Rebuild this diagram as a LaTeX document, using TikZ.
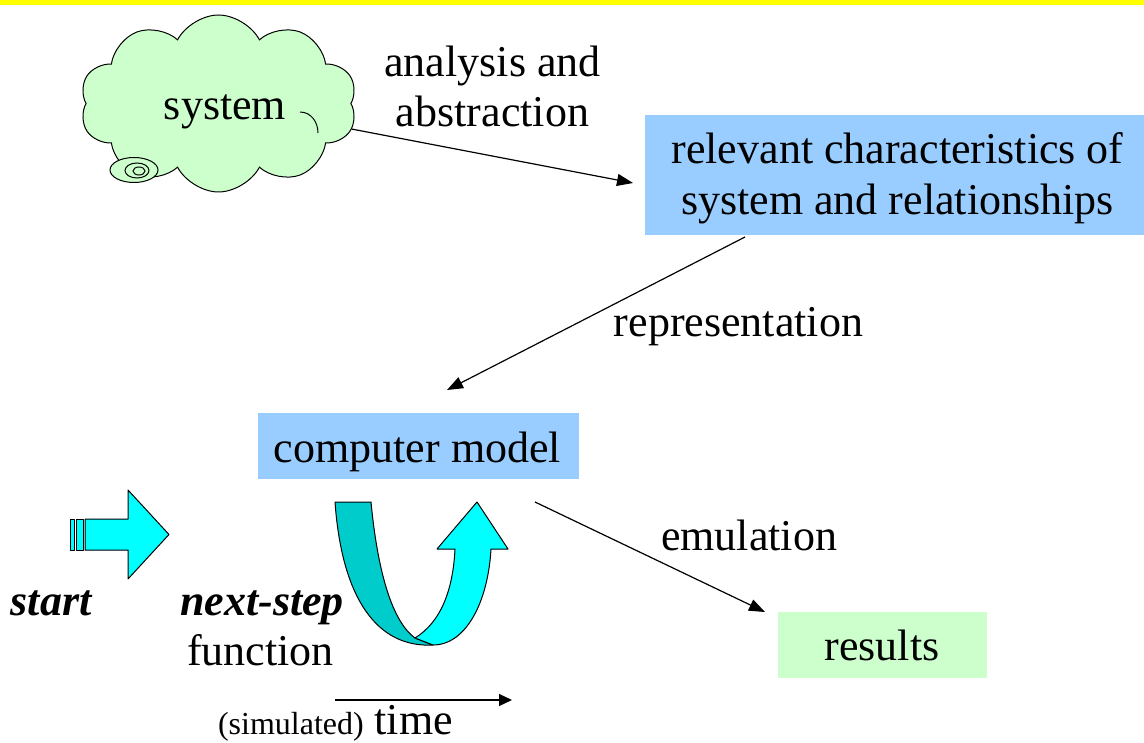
\documentclass[tikz,border=0pt]{standalone}
\usepackage{fontspec}
\setmainfont{Liberation Serif}
\usetikzlibrary{arrows.meta,shapes.symbols}
\definecolor{cloudgreen}{HTML}{CCFFCC}
\definecolor{boxblue}{HTML}{99CCFF}
\definecolor{aqua}{HTML}{00FFFF}
\definecolor{darkaqua}{HTML}{00CCCC}
\definecolor{baryellow}{HTML}{FFFF00}
\begin{document}
\begin{tikzpicture}[x=1pt,y=-1pt,
  txt/.style={font=\fontsize{44}{50.6}\selectfont, inner sep=0pt, anchor=base},
  bitxt/.style={txt, font=\fontsize{44}{50.6}\selectfont\bfseries\itshape},
  panel/.style={fill=#1, draw=none, inner sep=0pt, rectangle},
  link/.style={-{Triangle[length=16pt,width=12pt]}, line width=1.2pt},
  solid/.style={draw=black, line width=1pt, line join=round},
  puff/.style={draw=black, line width=1pt}]
% page frame and top bar
\useasboundingbox (0,0) rectangle (1144,743);
\fill[baryellow] (0,0) rectangle (1144,5);

% the system, drawn as a cloud with a small thought bubble
\node[cloud, cloud puffs=10, cloud puff arc=125, cloud ignores aspect,
      minimum width=277pt, minimum height=177pt, fill=cloudgreen, puff, inner sep=0pt]
      (sys) at (218.5,103.5) {};
% inner fold of the cloud outline
\draw[puff] (300,112) .. controls (311,112) and (318,122) .. (318,133);
\draw[puff, fill=cloudgreen] (134,170) ellipse [x radius=24, y radius=12.5];
\draw[puff] (137,170.5) ellipse [x radius=12, y radius=7.5];
\draw[puff] (139,171) ellipse [x radius=6, y radius=4];
\node[txt] (systxt) at (225,120) {system};

% boxes
\node[panel=boxblue, minimum width=499pt, minimum height=120pt] (rel) at (894.5,175) {};
\node[txt] (rel1) at (897.5,164) {relevant characteristics of};
\node[txt] (rel2) at (897.5,215) {system and relationships};

\node[panel=boxblue, minimum width=321pt, minimum height=66pt] (model) at (418.5,446) {};
\node[txt] (modeltxt) at (417.5,462) {computer model};

\node[panel=cloudgreen, minimum width=209pt, minimum height=66pt] (res) at (882.5,645) {};
\node[txt] (restxt) at (882,660) {results};

% connector labels
\node[txt] (lab1a) at (492.5,77) {analysis and};
\node[txt] (lab1b) at (492.5,127) {abstraction};
\node[txt] (lab2) at (738.5,337) {representation};
\node[txt] (lab3) at (749,550) {emulation};

% connectors
\coordinate (a1e) at (633,183);
\coordinate (a2s) at (745,237);
\coordinate (a2e) at (447,390);
\coordinate (a3s) at (535,502);
\coordinate (a3e) at (765,612);
\draw[link] (sys) -- (a1e);
\draw[link] (a2s) -- (a2e);
\draw[link] (a3s) -- (a3e);

% start arrow
\fill[aqua] (70,519) rectangle (74,550);
\draw[solid] (70,519) rectangle (74,550);
\fill[aqua] (76,519) rectangle (83,550);
\draw[solid] (76,519) rectangle (83,550);
\draw[solid, fill=aqua] (85,519) -- (128,519) -- (128,490) -- (169,534.5)
   -- (128,579) -- (128,550) -- (85,550) -- cycle;
\node[bitxt] (starttxt) at (51,615) {start};

% next-step loop
\draw[solid, fill=darkaqua] (335,502) -- (371,502)
   .. controls (378,575) and (393,622) .. (415,638) -- (433,645)
   .. controls (378,648) and (342,600) .. (335,502) -- cycle;
\draw[solid, fill=aqua] (415,638) .. controls (441,622) and (453,590) .. (455,549)
   -- (437,549) -- (477,502) -- (508,549) -- (491,549)
   .. controls (488,602) and (466,645) .. (433,645) -- cycle;
\node[bitxt] (steptxt) at (262,615) {next-step};
\node[txt] (functxt) at (260.5,665) {function};

% time axis
\coordinate (ts) at (335,700);
\coordinate (te) at (512,700);
\draw[link, -{Triangle[length=13pt,width=12pt]}] (ts) -- (te);
\node[txt] (timetxt) at (335.5,734) {{\fontsize{32}{36}\selectfont (simulated)} time};
\end{tikzpicture}
\end{document}
